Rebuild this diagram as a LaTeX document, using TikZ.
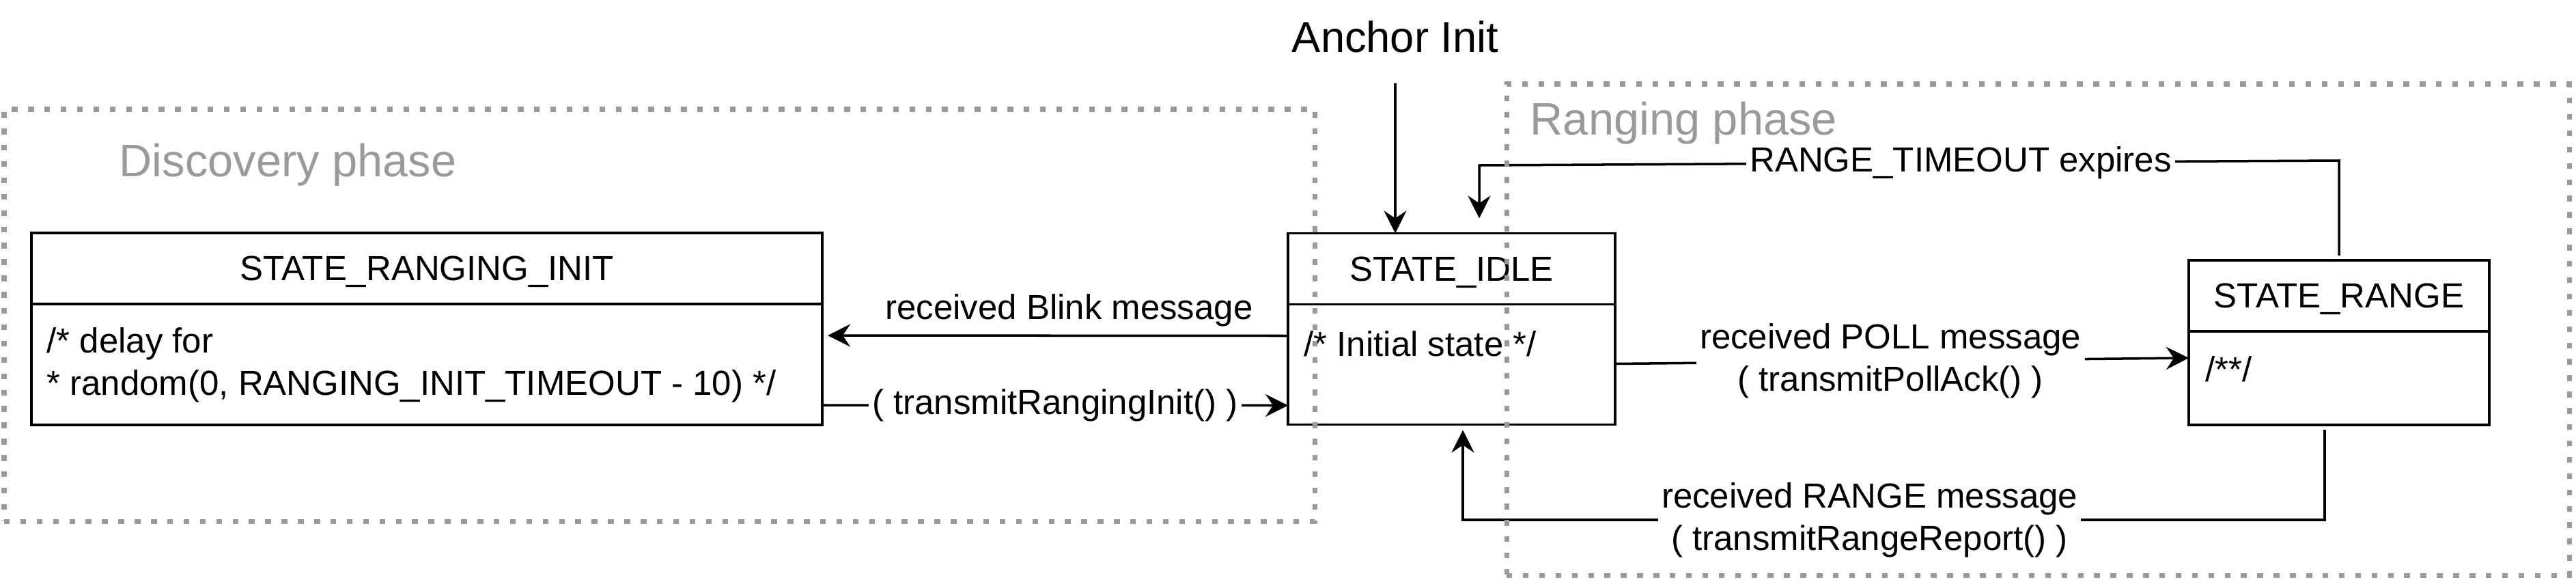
\documentclass[tikz,border=0pt]{standalone}
\usepackage{fontspec}
\setmainfont{Liberation Sans}
\usetikzlibrary{positioning,calc,arrows.meta}
\definecolor{phasec}{HTML}{9A9A96}
\newcommand{\statefont}{\fontsize{14.5}{17.6}\selectfont}

\begin{document}
\begin{tikzpicture}[
  head/.style={draw, line width=1.1pt, minimum width=#1, minimum height=1.04cm, inner sep=0pt, outer sep=0pt, text depth=0pt, font=\statefont},
  body/.style={draw, line width=1.1pt, minimum width=#1, inner sep=0pt, outer sep=0pt},
  txt/.style={inner sep=0pt, align=left, font=\statefont},
  arr/.style={-{Stealth[length=3.3mm, width=3.3mm, inset=1.1mm]}, line width=1pt},
  lbl/.style={fill=white, inner sep=1.5pt, align=center, font=\statefont},
  phasebox/.style={draw=phasec, line width=2pt, dash pattern=on 2.4pt off 4.4pt, inner sep=0pt},
  phaselbl/.style={text=phasec, inner sep=0pt, font=\fontsize{19}{23}\selectfont}]
  \useasboundingbox (0,0) rectangle (37.72,-8.48);
  \node[head=11.58cm] (rinith) at (6.25,-3.93) {STATE\_RANGING\_INIT};
  \node[body=11.58cm, minimum height=1.77cm, below=0pt of rinith] (rinitb) {};
  \node[head=4.79cm] (idleh) at (21.255,-3.935) {STATE\_IDLE};
  \node[body=4.79cm, minimum height=1.76cm, below=0pt of idleh] (idleb) {};
  \node[head=4.40cm] (rangeh) at (34.25,-4.33) {STATE\_RANGE};
  \node[body=4.40cm, minimum height=1.37cm, below=0pt of rangeh] (rangeb) {};
  \node[txt, anchor=west] (rinitt) at (0.68,-5.34) {/* delay for\\{}* random(0, RANGING\_INIT\_TIMEOUT - 10) */};
  \node[txt, anchor=west] (idlet) at (19.09,-5.03) {/* Initial state */};
  \node[txt, anchor=west] (ranget) at (32.29,-5.40) {/**/};
  % transitions
  \node[anchor=base, font=\fontsize{18}{21}\selectfont] (anchor) at (20.43,-0.76) {Anchor Init};
  \draw[arr, shorten <=0.33cm] (anchor.south) -- (anchor.south |- idleh.north);
  \coordinate (tmo) at (21.66,-2.42);
  \draw[arr, shorten >=0.22cm] ([yshift=0.07cm]rangeh.north) -- ([yshift=0.07cm]rangeh.north |- tmo)
    -- node[lbl, pos=0.44] {RANGE\_TIMEOUT expires} (tmo) -- (tmo |- idleh.north);
  \draw[arr, shorten >=0.08cm] ([yshift=-0.46cm]idleb.north west) -- node[pos=0.47, above, font=\statefont] {received Blink message} ([yshift=-0.46cm]rinitb.north east);
  \draw[arr] ([yshift=-1.48cm]rinitb.north east) -- node[lbl] {( transmitRangingInit() )} ([yshift=-1.48cm]idleb.north west);
  \draw[arr] ([yshift=-0.87cm]idleb.north east) -- node[lbl, pos=0.48] {received POLL message\\( transmitPollAck() )} ([yshift=-0.39cm]rangeb.north west);
  \coordinate (rpt) at (21.42,-7.61);
  \draw[arr, shorten <=0.07cm, shorten >=0.08cm] ([xshift=-0.21cm]rangeb.south) -- ([xshift=-0.21cm]rangeb.south |- rpt)
    -- node[lbl, pos=0.528] {received RANGE message\\( transmitRangeReport() )} (rpt) -- (rpt |- idleb.south);
  % phases
  \node[phasebox, minimum width=19.19cm, minimum height=6.03cm] (disc) at (9.655,-4.615) {};
  \node[phasebox, minimum width=15.56cm, minimum height=7.19cm] (rng) at (29.84,-4.825) {};
  \node[phaselbl, anchor=base west] (disct) at (1.74,-2.58) {Discovery phase};
  \node[phaselbl, anchor=base west] (rngt) at (22.40,-1.97) {Ranging phase};
\end{tikzpicture}
\end{document}
